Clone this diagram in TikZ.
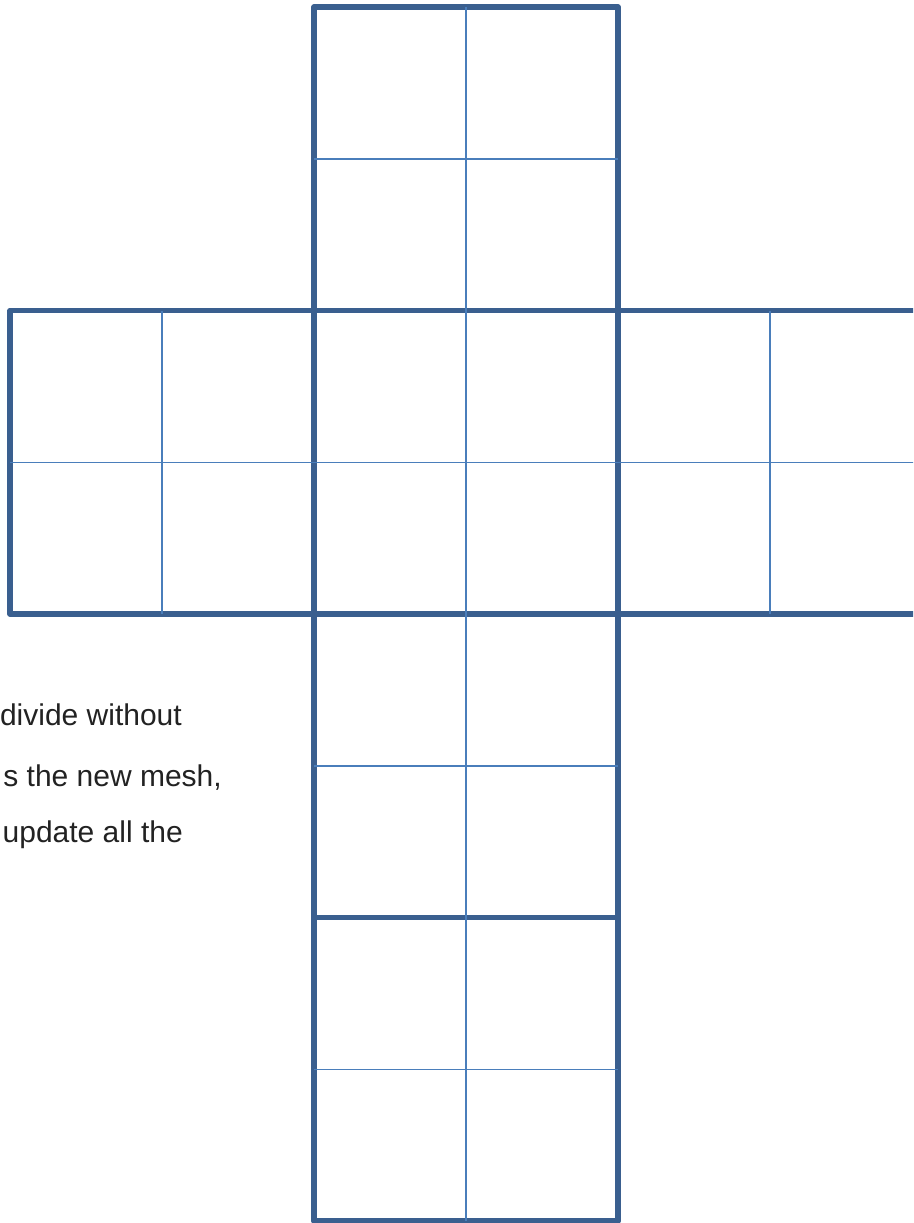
\documentclass[tikz,border=0pt]{standalone}
\usepackage{fontspec}
\setmainfont{Liberation Sans}
\definecolor{faceline}{HTML}{3A5F8F}
\definecolor{gridline}{HTML}{4A7EBB}
\definecolor{txtcol}{HTML}{222222}
\begin{document}
\begin{tikzpicture}[x=1pt,y=-1pt,
  face/.style={draw=faceline,line width=5.5pt,line join=round},
  gridln/.style={draw=gridline,line width=1.5pt},
  txt/.style={font=\fontsize{30}{36}\selectfont,text=txtcol,inner sep=0pt,anchor=base east}]
\useasboundingbox (0,0) rectangle (913,1223);
\clip (0,0) rectangle (913,1223);
% faces (thick outlines)
\foreach \x/\y in {314/7, 10/310.5, 314/310.5, 618/310.5, 314/614, 314/917.5}{
  \draw[face] (\x,\y) rectangle ++(304,303.5);
}
% inner grid lines
\foreach \x/\y in {314/7, 10/310.5, 314/310.5, 618/310.5, 314/614, 314/917.5}{
  \draw[gridln] (\x+152,\y) -- ++(0,303.5);
  \draw[gridln] (\x,\y+151.75) -- ++(304,0);
}
% text
\node[txt] (t1) at (182,725) {divide without};
\node[txt] (t2) at (222,786) {s the new mesh,};
\node[txt] (t3) at (183,842) {update all the};
\end{tikzpicture}
\end{document}
